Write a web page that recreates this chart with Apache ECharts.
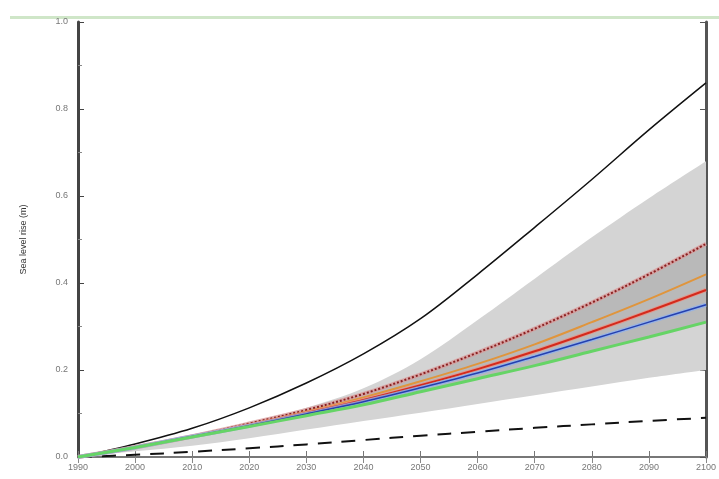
<!DOCTYPE html>
<html>
<head>
<meta charset="utf-8">
<script src="https://cdn.jsdelivr.net/npm/echarts@6/dist/echarts.min.js"></script>
<style>html,body{margin:0;padding:0;background:#fff;}#c{width:719px;height:479px;}</style>
</head>
<body>
<div id="c"></div>
<script>
const years = ['1990', '2000', '2010', '2020', '2030', '2040', '2050', '2060', '2070', '2080', '2090', '2100'];
const yTicks = ['0.0', '0.2', '0.4', '0.6', '0.8', '1.0'];
const upperEnvelope = [0, 0.03, 0.066, 0.113, 0.17, 0.237, 0.318, 0.42, 0.528, 0.638, 0.752, 0.86];
const lowerEnvelope = [0, 0.005, 0.012, 0.02, 0.029, 0.039, 0.049, 0.058, 0.067, 0.075, 0.083, 0.09];
const lightHigh = [0, 0.026, 0.05, 0.077, 0.113, 0.158, 0.225, 0.315, 0.41, 0.505, 0.595, 0.68];
const lightLow = [0, 0.013, 0.026, 0.043, 0.063, 0.083, 0.102, 0.122, 0.142, 0.162, 0.182, 0.2];
const greenLine = [0, 0.022, 0.046, 0.07, 0.095, 0.12, 0.15, 0.18, 0.21, 0.243, 0.276, 0.31];
const blueLine = [0, 0.022, 0.047, 0.072, 0.099, 0.127, 0.159, 0.193, 0.231, 0.27, 0.31, 0.35];
const redLine = [0, 0.022, 0.047, 0.073, 0.101, 0.131, 0.165, 0.202, 0.243, 0.288, 0.335, 0.384];
const orangeLine = [0, 0.022, 0.047, 0.074, 0.104, 0.137, 0.174, 0.214, 0.259, 0.31, 0.363, 0.42];
const dottedLine = [0, 0.023, 0.048, 0.077, 0.108, 0.145, 0.19, 0.24, 0.295, 0.355, 0.42, 0.49];

const diff = (a, b) => a.map((v, i) => +(v - b[i]).toFixed(4));

function line(name, arr, color, width, type, opacity) {
  return {
    name, type: 'line', data: arr, smooth: 0.35, showSymbol: false,
    lineStyle: { color, width, type: type || 'solid', opacity: opacity == null ? 1 : opacity },
    z: 5, silent: true
  };
}
function band(stack, lo, hi, color) {
  return [
    { name: stack + 'Base', type: 'line', stack, data: lo, smooth: 0.35, showSymbol: false, lineStyle: { width: 0, opacity: 0 }, silent: true, z: 2 },
    { name: stack + 'Fill', type: 'line', stack, data: diff(hi, lo), smooth: 0.35, showSymbol: false, lineStyle: { width: 0, opacity: 0 }, areaStyle: { color, opacity: 1 }, silent: true, z: 2 }
  ];
}

const chart = echarts.init(document.getElementById('c'), null, { renderer: 'canvas' });
const font = 'Liberation Sans, Arial, sans-serif';
chart.setOption({
  animation: false,
  backgroundColor: '#fff',
  grid: { left: 78, right: 9, top: 22, bottom: 22 },
  graphic: [
    { type: 'rect', shape: { x: 10, y: 16, width: 709, height: 3 }, style: { fill: '#cfe6c8' } }
  ],
  xAxis: [
    {
      type: 'category', data: years, boundaryGap: false, position: 'bottom',
      axisLine: { show: true, lineStyle: { color: '#777', width: 2 } },
      axisTick: { show: true, inside: true, length: 6, lineStyle: { color: '#777' } },
      axisLabel: { color: '#777', fontSize: 9, fontFamily: font, margin: 6 },
      splitLine: { show: false }
    },
    {
      type: 'category', data: years, boundaryGap: false, position: 'top',
      axisLine: { show: false },
      axisTick: { show: true, inside: true, length: 6, lineStyle: { color: '#888' } },
      axisLabel: { show: false },
      splitLine: { show: false }
    }
  ],
  yAxis: [
    {
      type: 'value', min: 0, max: 1, interval: 0.2, position: 'left',
      name: 'Sea level rise (m)', nameLocation: 'middle', nameGap: 50, nameRotate: 90,
      nameTextStyle: { color: '#333', fontSize: 9, fontFamily: font },
      axisLine: { show: true, lineStyle: { color: '#444', width: 3 } },
      axisTick: { show: true, inside: true, length: 6, lineStyle: { color: '#444' } },
      minorTick: { show: true, splitNumber: 2, length: 4, lineStyle: { color: '#888' } },
      axisLabel: { color: '#777', fontSize: 9, fontFamily: font, margin: 10,
        formatter: v => yTicks[Math.round(v / 0.2)] },
      splitLine: { show: false }
    },
    {
      type: 'value', min: 0, max: 1, interval: 0.2, position: 'right',
      axisLine: { show: true, lineStyle: { color: '#555', width: 3 } },
      axisTick: { show: true, inside: true, length: 6, lineStyle: { color: '#555' } },
      axisLabel: { show: false },
      splitLine: { show: false }
    }
  ],
  series: [
    ...band('light', lightLow, lightHigh, '#d4d4d4'),
    ...band('dark', greenLine, dottedLine, '#b9b9b9'),
    line('upper', upperEnvelope, '#111', 1.5),
    line('lower', lowerEnvelope, '#111', 2, [14, 10]),
    line('dottedHalo', dottedLine, '#d89a9a', 4, 'solid', 0.8),
    line('dotted', dottedLine, '#8a2020', 2, 'dotted'),
    line('orange', orangeLine, '#e0953c', 2),
    line('redHalo', redLine, '#f08a7a', 4, 'solid', 0.7),
    line('red', redLine, '#d42a1c', 2),
    line('lightBlue', blueLine, '#8fb0ee', 4, 'solid', 0.8),
    line('blue', blueLine, '#2440b0', 1.5),
    line('green', greenLine, '#66d466', 3)
  ]
});
</script>
</body>
</html>
